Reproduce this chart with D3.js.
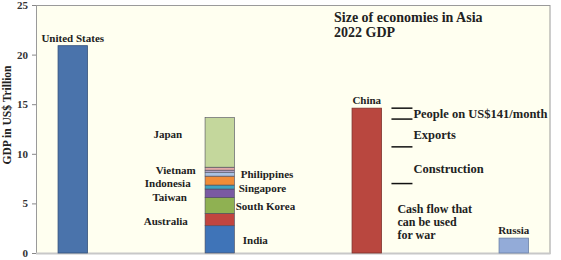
<!DOCTYPE html>
<html lang="en">
<head>
    <meta charset="UTF-8">
    <title>Size of economies in Asia</title>
    <script src="https://d3js.org/d3.v7.min.js"></script>
    <style>
        body {
            margin: 0;
            background: #ffffff;
            overflow: hidden;
        }
        svg text {
            font-family: 'Liberation Serif', 'Times New Roman', serif;
            font-weight: bold;
            fill: #222;
        }
        .axis path { display: none; }
        .axis line { stroke: #888; }
        .axis text { font-size: 11px; fill: #333; }
        .frame { fill: #fffff0; stroke: #9a9a9a; stroke-width: 1; }
    </style>
</head>
<body>
    <svg width="561" height="260"></svg>

    <script>
        // slots along the x axis (empty slots leave gaps between bars)
        const slots = ["United States", "gap1", "Asia", "gap2", "China", "gap3", "Russia"];

        // single bars, GDP in US$ trillion
        const singleNames = ["United States", "China", "Russia"];
        const singleValues = [20.9, 14.6, 1.5];

        // stacked Asia bar, bottom to top
        const asiaNames = ["India", "Australia", "South Korea", "Taiwan", "Singapore",
                           "Indonesia", "Philippines", "Malaysia", "Vietnam", "Japan"];
        const asiaValues = [2.75, 1.25, 1.6, 0.85, 0.4, 0.9, 0.4, 0.2, 0.3, 5.0];

        // China split, boundaries in US$ trillion
        const chinaBreaks = [14.6, 13.5, 10.7, 7.0];

        const yTicks = [0, 5, 10, 15, 20, 25];

        // colours
        const singleColors = { "United States": "#4a73ab", "China": "#b9473f", "Russia": "#93abd8" };
        const singleStroke = { "United States": "#33507a", "China": "#7e302b", "Russia": "#6a80a8" };
        const asiaColors = ["#3f74b8", "#c1453f", "#8fb152", "#7a5aa2", "#3fa3c2",
                            "#f08c38", "#a9c2e2", "#c3b3d9", "#e3aaa8", "#c4d79c"];

        // label placement for stacked bar (value = vertical position, side = left/right)
        const asiaLabels = [
            { name: "Japan", at: 12.0, side: "left", dx: -52 },
            { name: "Vietnam", at: 8.4, side: "left", dx: -44 },
            { name: "Indonesia", at: 7.1, side: "left", dx: -52 },
            { name: "Taiwan", at: 5.6, side: "left", dx: -50 },
            { name: "Australia", at: 3.2, side: "left", dx: -54 },
            { name: "Philippines", at: 8.0, side: "right", dx: 21 },
            { name: "Singapore", at: 6.6, side: "right", dx: 19 },
            { name: "South Korea", at: 4.7, side: "right", dx: 16 },
            { name: "India", at: 1.3, side: "right", dx: 23 }
        ];

        const svg = d3.select("svg");
        const plotLeft = 36, plotRight = 550.5, plotTop = 5, plotBottom = 253;

        const x = d3.scaleBand()
            .domain(slots)
            .range([plotLeft, plotRight])
            .paddingInner(0.6)
            .paddingOuter(0.3);

        const y = d3.scaleLinear()
            .domain([0, 25])
            .range([plotBottom, plotTop]);

        // plot frame
        svg.append("rect")
            .attr("class", "frame")
            .attr("x", plotLeft + 0.5)
            .attr("y", plotTop + 0.5)
            .attr("width", plotRight - plotLeft - 1)
            .attr("height", plotBottom - plotTop);

        svg.append("line")
            .attr("x1", plotLeft).attr("x2", plotRight)
            .attr("y1", plotBottom + 0.5).attr("y2", plotBottom + 0.5)
            .attr("stroke", "#c8c8c8")
            .attr("stroke-width", 2);

        // y axis
        svg.append("g")
            .attr("class", "axis")
            .attr("transform", `translate(${plotLeft},0)`)
            .call(d3.axisLeft(y).tickValues(yTicks).tickSize(4).tickPadding(4));

        svg.append("text")
            .attr("transform", `translate(11,${(plotBottom + plotTop) / 2 - 14}) rotate(-90)`)
            .attr("text-anchor", "middle")
            .style("font-size", "11.5px")
            .text("GDP in US$ Trillion");

        // single bars
        const singles = singleNames.map((n, i) => ({ name: n, value: singleValues[i] }));

        svg.selectAll(".single")
            .data(singles)
            .join("rect")
            .attr("class", "single")
            .attr("x", d => x(d.name))
            .attr("y", d => y(d.value))
            .attr("width", x.bandwidth())
            .attr("height", d => y(0) - y(d.value))
            .attr("fill", d => singleColors[d.name])
            .attr("stroke", d => singleStroke[d.name])
            .attr("stroke-width", 0.8);

        svg.selectAll(".single-label")
            .data(singles)
            .join("text")
            .attr("class", "single-label")
            .attr("x", d => x(d.name) + x.bandwidth() / 2)
            .attr("y", d => y(d.value) - 4)
            .attr("text-anchor", "middle")
            .style("font-size", "11px")
            .text(d => d.name);

        // stacked Asia bar
        let acc = 0;
        const asia = asiaNames.map((n, i) => {
            const seg = { name: n, y0: acc, y1: acc + asiaValues[i], color: asiaColors[i] };
            acc += asiaValues[i];
            return seg;
        });

        svg.selectAll(".asia")
            .data(asia)
            .join("rect")
            .attr("class", "asia")
            .attr("x", x("Asia"))
            .attr("y", d => y(d.y1))
            .attr("width", x.bandwidth())
            .attr("height", d => y(d.y0) - y(d.y1))
            .attr("fill", d => d.color)
            .attr("stroke", "#4a4a5a")
            .attr("stroke-width", 0.6);

        const asiaMid = x("Asia") + x.bandwidth() / 2;
        svg.selectAll(".asia-label")
            .data(asiaLabels)
            .join("text")
            .attr("class", "asia-label")
            .attr("x", d => asiaMid + d.dx)
            .attr("y", d => y(d.at) + 4)
            .attr("text-anchor", d => d.side === "left" ? "middle" : "start")
            .style("font-size", "11px")
            .text(d => d.name);

        // China breakdown marks and notes
        const chinaRight = x("China") + x.bandwidth();
        svg.selectAll(".china-mark")
            .data(chinaBreaks)
            .join("line")
            .attr("class", "china-mark")
            .attr("x1", chinaRight + 10)
            .attr("x2", chinaRight + 31)
            .attr("y1", d => y(d))
            .attr("y2", d => y(d))
            .attr("stroke", "#111")
            .attr("stroke-width", 1.5);

        const notes = [
            { text: "People on US$141/month", from: chinaBreaks[1], to: chinaBreaks[0], shift: 0.5 },
            { text: "Exports", from: chinaBreaks[2], to: chinaBreaks[1], shift: 2.5 },
            { text: "Construction", from: chinaBreaks[3], to: chinaBreaks[2], shift: 3.5 }
        ];
        svg.selectAll(".china-note")
            .data(notes)
            .join("text")
            .attr("class", "china-note")
            .attr("x", chinaRight + 32)
            .attr("y", d => y((d.from + d.to) / 2) + 4 + d.shift)
            .style("font-size", "12.5px")
            .text(d => d.text);

        const cash = ["Cash flow that", "can be used", "for war"];
        svg.append("text")
            .attr("x", chinaRight + 16)
            .attr("y", y(4.4) + 4)
            .style("font-size", "12px")
            .selectAll("tspan")
            .data(cash)
            .join("tspan")
            .attr("x", chinaRight + 16)
            .attr("dy", (d, i) => i === 0 ? 0 : 13)
            .text(d => d);

        // title
        svg.append("text")
            .attr("x", 334)
            .attr("y", 22)
            .style("font-size", "14px")
            .selectAll("tspan")
            .data(["Size of economies in Asia", "2022 GDP"])
            .join("tspan")
            .attr("x", 334)
            .attr("dy", (d, i) => i === 0 ? 0 : 15)
            .text(d => d);
    </script>
</body>
</html>
